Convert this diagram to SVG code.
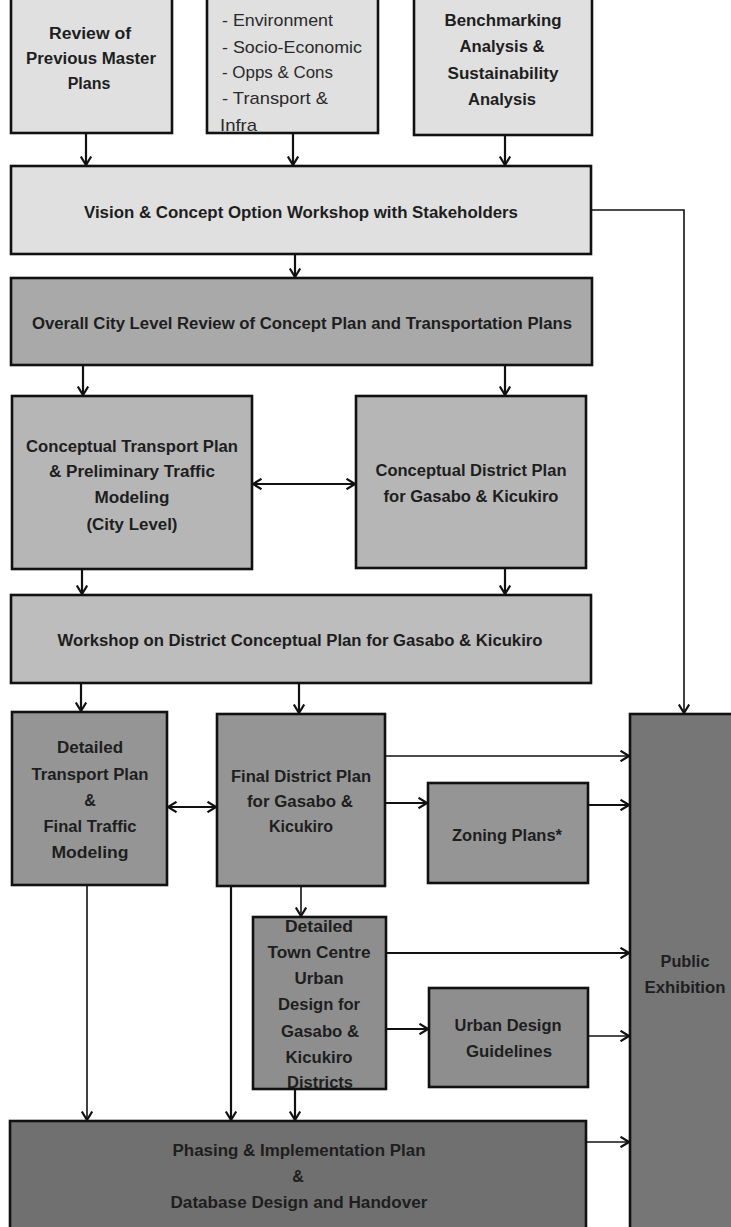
<svg xmlns="http://www.w3.org/2000/svg" width="731" height="1227" viewBox="0 0 731 1227">
<defs>
<style>
.box{stroke:#111;stroke-width:2.6}
.c1{fill:#e0e0e0}.c2{fill:#a9a9a9}.c3{fill:#b6b6b6}.c4{fill:#bdbdbd}.c5{fill:#959595}.c6{fill:#8e8e8e}.c7{fill:#707070}
text{font-family:"Liberation Sans",Arial,sans-serif;font-size:16px;font-weight:bold;fill:#1e1e1e;text-anchor:middle}
text.l{font-weight:normal;text-anchor:start;font-size:17px;fill:#2a2a2a}
.cn path{fill:none;stroke:#111;stroke-width:2.2}
.cn path.thin{stroke-width:1.6}
</style>
<marker id="ah" viewBox="0 0 10 12" refX="9.5" refY="6" markerWidth="10" markerHeight="12" markerUnits="userSpaceOnUse" orient="auto-start-reverse">
<path d="M1,0.8 L9.5,6 L1,11.2" fill="none" stroke="#111" stroke-width="2.2"/>
</marker>
</defs>
<rect width="731" height="1227" fill="#fff"/>

<g id="review"><rect class="box c1" x="11" y="-10" width="161" height="143"/>
<text x="90" y="38.5" textLength="82" lengthAdjust="spacingAndGlyphs">Review of</text>
<text x="91" y="63.5" textLength="130" lengthAdjust="spacingAndGlyphs">Previous Master</text>
<text x="89" y="88.5">Plans</text></g>

<g id="baseline"><rect class="box c1" x="207" y="-10" width="171" height="143"/>
<text class="l" x="222" y="26" textLength="111" lengthAdjust="spacingAndGlyphs">- Environment</text>
<text class="l" x="222" y="53" textLength="140" lengthAdjust="spacingAndGlyphs">- Socio-Economic</text>
<text class="l" x="222" y="78" textLength="111" lengthAdjust="spacingAndGlyphs">- Opps &amp; Cons</text>
<text class="l" x="222" y="104" textLength="106" lengthAdjust="spacingAndGlyphs">- Transport &amp;</text>
<text class="l" x="220" y="131" textLength="37" lengthAdjust="spacingAndGlyphs">Infra</text></g>

<g id="benchmark"><rect class="box c1" x="414" y="-10" width="178" height="145"/>
<text x="503" y="25.5" textLength="117" lengthAdjust="spacingAndGlyphs">Benchmarking</text>
<text x="502" y="51.5" textLength="85" lengthAdjust="spacingAndGlyphs">Analysis &amp;</text>
<text x="503" y="78.5" textLength="111" lengthAdjust="spacingAndGlyphs">Sustainability</text>
<text x="502" y="104.5" textLength="68" lengthAdjust="spacingAndGlyphs">Analysis</text></g>

<g id="vision"><rect class="box c1" x="11" y="166" width="580" height="88"/>
<text x="301" y="217.5" textLength="434" lengthAdjust="spacingAndGlyphs">Vision &amp; Concept Option Workshop with Stakeholders</text></g>

<g id="overall"><rect class="box c2" x="11" y="278" width="581" height="87" stroke-width="3.2"/>
<text x="302" y="328.5" textLength="540" lengthAdjust="spacingAndGlyphs">Overall City Level Review of Concept Plan and Transportation Plans</text></g>

<g id="concTransport"><rect class="box c3" x="12" y="396" width="240" height="173"/>
<text x="132" y="451.5" textLength="212" lengthAdjust="spacingAndGlyphs">Conceptual Transport Plan</text>
<text x="132" y="476.5" textLength="166" lengthAdjust="spacingAndGlyphs">&amp; Preliminary Traffic</text>
<text x="132" y="502.5" textLength="75" lengthAdjust="spacingAndGlyphs">Modeling</text>
<text x="132" y="529.5" textLength="91" lengthAdjust="spacingAndGlyphs">(City Level)</text></g>

<g id="concDistrict"><rect class="box c3" x="356" y="396" width="230" height="172"/>
<text x="471" y="475.5" textLength="191" lengthAdjust="spacingAndGlyphs">Conceptual District Plan</text>
<text x="471" y="501.5" textLength="175" lengthAdjust="spacingAndGlyphs">for Gasabo &amp; Kicukiro</text></g>

<g id="workshop"><rect class="box c4" x="11" y="595" width="580" height="88"/>
<text x="300" y="645.5" textLength="485" lengthAdjust="spacingAndGlyphs">Workshop on District Conceptual Plan for Gasabo &amp; Kicukiro</text></g>

<g id="detTransport"><rect class="box c5" x="12" y="712" width="155" height="173"/>
<text x="90" y="752.5" textLength="66" lengthAdjust="spacingAndGlyphs">Detailed</text>
<text x="90" y="779.5" textLength="117" lengthAdjust="spacingAndGlyphs">Transport Plan</text>
<text x="90" y="805.5">&amp;</text>
<text x="90" y="831.5" textLength="93" lengthAdjust="spacingAndGlyphs">Final Traffic</text>
<text x="90" y="857.5" textLength="77" lengthAdjust="spacingAndGlyphs">Modeling</text></g>

<g id="finalDistrict"><rect class="box c5" x="217" y="714" width="168" height="172"/>
<text x="301" y="781.5" textLength="140" lengthAdjust="spacingAndGlyphs">Final District Plan</text>
<text x="300" y="806.5" textLength="106" lengthAdjust="spacingAndGlyphs">for Gasabo &amp;</text>
<text x="301" y="831.5" textLength="64" lengthAdjust="spacingAndGlyphs">Kicukiro</text></g>

<g id="zoning"><rect class="box c5" x="428" y="783" width="160" height="100"/>
<text x="507" y="840.5" textLength="110" lengthAdjust="spacingAndGlyphs">Zoning Plans*</text></g>

<g id="townCentre"><rect class="box c6" x="253" y="917" width="133" height="172"/>
<text x="319" y="931.5" textLength="68" lengthAdjust="spacingAndGlyphs">Detailed</text>
<text x="319" y="957.5" textLength="103" lengthAdjust="spacingAndGlyphs">Town Centre</text>
<text x="319" y="983.5" textLength="49" lengthAdjust="spacingAndGlyphs">Urban</text>
<text x="319" y="1009.5" textLength="82" lengthAdjust="spacingAndGlyphs">Design for</text>
<text x="320" y="1036.5" textLength="78" lengthAdjust="spacingAndGlyphs">Gasabo &amp;</text>
<text x="319" y="1062.5" textLength="67" lengthAdjust="spacingAndGlyphs">Kicukiro</text>
<text x="320" y="1087.5" textLength="66" lengthAdjust="spacingAndGlyphs">Districts</text></g>

<g id="urbanDesign"><rect class="box c6" x="429" y="988" width="159" height="99"/>
<text x="508" y="1030.5" textLength="107" lengthAdjust="spacingAndGlyphs">Urban Design</text>
<text x="509" y="1056.5" textLength="86" lengthAdjust="spacingAndGlyphs">Guidelines</text></g>

<g id="publicExhibition"><rect class="box" fill="#767676" x="630" y="714" width="112" height="530"/>
<text x="685" y="966.5" textLength="49" lengthAdjust="spacingAndGlyphs">Public</text>
<text x="685" y="992.5" textLength="81" lengthAdjust="spacingAndGlyphs">Exhibition</text></g>

<g id="phasing"><rect class="box c7" x="10" y="1121" width="576" height="120"/>
<text x="299" y="1155.5" textLength="253" lengthAdjust="spacingAndGlyphs">Phasing &amp; Implementation Plan</text>
<text x="298" y="1181.5">&amp;</text>
<text x="299" y="1207.5" textLength="257" lengthAdjust="spacingAndGlyphs">Database Design  and Handover</text></g>

<g id="connectors" class="cn">
<path d="M86,133 V165" marker-end="url(#ah)"/>
<path d="M293,133 V165" marker-end="url(#ah)"/>
<path d="M505,135 V165" marker-end="url(#ah)"/>
<path class="thin" d="M591,210 H684 V713" marker-end="url(#ah)"/>
<path d="M295,254 V277" marker-end="url(#ah)"/>
<path d="M83,365 V395" marker-end="url(#ah)"/>
<path d="M505,365 V395" marker-end="url(#ah)"/>
<path d="M253,484 H355" marker-start="url(#ah)" marker-end="url(#ah)"/>
<path d="M82,569 V594" marker-end="url(#ah)"/>
<path d="M505,568 V594" marker-end="url(#ah)"/>
<path d="M81,683 V711" marker-end="url(#ah)"/>
<path d="M299,683 V713" marker-end="url(#ah)"/>
<path d="M168,807 H216" marker-start="url(#ah)" marker-end="url(#ah)"/>
<path class="thin" d="M385,756 H629" marker-end="url(#ah)"/>
<path d="M385,803 H427" marker-end="url(#ah)"/>
<path d="M588,805 H629" marker-end="url(#ah)"/>
<path class="thin" d="M87,885 V1120" marker-end="url(#ah)"/>
<path d="M231,886 V1120" marker-end="url(#ah)"/>
<path class="thin" d="M301,886 V916" marker-end="url(#ah)"/>
<path d="M295,1089 V1120" marker-end="url(#ah)"/>
<path d="M386,953 H629" marker-end="url(#ah)"/>
<path d="M386,1029 H428" marker-end="url(#ah)"/>
<path class="thin" d="M588,1036 H629" marker-end="url(#ah)"/>
<path class="thin" d="M586,1142 H629" marker-end="url(#ah)"/>
</g>
</svg>
